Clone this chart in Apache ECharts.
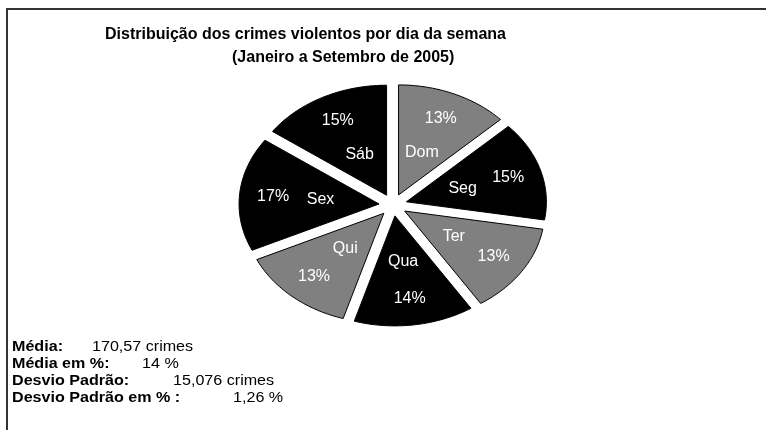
<!DOCTYPE html>
<html lang="pt">
<head>
    <meta charset="UTF-8">
    <title>Crimes violentos por dia da semana</title>
    <script src="https://cdn.jsdelivr.net/npm/echarts@6/dist/echarts.min.js"></script>
    <style type="text/css">
        html, body { margin: 0; padding: 0; background: #fff; }
        #pie { width: 766px; height: 430px; }
    </style>
</head>
<body>
<div id="pie"></div>
<script type="text/javascript">
    // dados
    var days = ['Dom', 'Seg', 'Ter', 'Qua', 'Qui', 'Sex', 'Sáb'];
    var crimes = [155, 175, 158, 165, 160, 200, 181];
    var sliceColors = ['#808080', '#000000', '#808080', '#000000', '#808080', '#000000', '#000000'];

    var titleLines = ['Distribuição dos crimes violentos por dia da semana', '(Janeiro a Setembro de 2005)'];
    var statLabels = ['Média:', 'Média em %:', 'Desvio Padrão:', 'Desvio Padrão em % :'];
    var statValues = ['170,57 crimes', '14 %', '15,076 crimes', '1,26 %'];

    // layout
    var cx = 393, cy = 205, rx = 140, ry = 110, explode = 0.1;
    var statValueX = [92, 142, 173, 233];
    var FONT = '"Liberation Sans", Arial, sans-serif';

    var total = 0;
    var cum = [];
    for (var i = 0; i < crimes.length; i++) {
        cum.push(total);
        total += crimes[i];
    }

    var chart = echarts.init(document.getElementById('pie'));

    function renderSlice(params, api) {
        var v = api.value(0), start = api.value(1);
        var a0 = start / total * Math.PI * 2;
        var a1 = (start + v) / total * Math.PI * 2;
        var mid = (a0 + a1) / 2;
        var ox = cx + explode * rx * Math.sin(mid);
        var oy = cy - explode * ry * Math.cos(mid);
        var pts = [[ox, oy]];
        var n = 40;
        for (var k = 0; k <= n; k++) {
            var a = a0 + (a1 - a0) * k / n;
            pts.push([ox + rx * Math.sin(a), oy - ry * Math.cos(a)]);
        }
        var pct = Math.round(v / total * 100) + '%';
        function at(f) {
            return [ox + f * rx * Math.sin(mid), oy - f * ry * Math.cos(mid)];
        }
        var pName = at(0.42), pPct = at(0.76);
        return {
            type: 'group',
            children: [{
                type: 'polygon',
                shape: {points: pts},
                style: {fill: sliceColors[params.dataIndex], stroke: '#000', lineWidth: 1}
            }, {
                type: 'text',
                x: pName[0], y: pName[1],
                style: {text: days[params.dataIndex], fill: '#fff', font: '16px ' + FONT, align: 'center', verticalAlign: 'middle'}
            }, {
                type: 'text',
                x: pPct[0], y: pPct[1],
                style: {text: pct, fill: '#fff', font: '16px ' + FONT, align: 'center', verticalAlign: 'middle'}
            }]
        };
    }

    var graphics = [
        {type: 'line', shape: {x1: 7, y1: 9, x2: 7, y2: 430}, style: {stroke: '#333', lineWidth: 2}},
        {type: 'line', shape: {x1: 6, y1: 9, x2: 766, y2: 9}, style: {stroke: '#333', lineWidth: 2}},
        {type: 'text', x: 105, y: 35,
            style: {text: titleLines[0], font: 'bold 16px ' + FONT, fill: '#000', verticalAlign: 'middle'}},
        {type: 'text', x: 232, y: 58,
            style: {text: titleLines[1], font: 'bold 16px ' + FONT, fill: '#000', verticalAlign: 'middle'}}
    ];
    for (var r = 0; r < statLabels.length; r++) {
        graphics.push({type: 'text', x: 12, y: 347 + r * 17, scaleX: 1.15,
            style: {text: statLabels[r], font: 'bold 14px ' + FONT, fill: '#000', verticalAlign: 'middle'}});
        graphics.push({type: 'text', x: statValueX[r], y: 347 + r * 17, scaleX: 1.15,
            style: {text: statValues[r], font: '14px ' + FONT, fill: '#000', verticalAlign: 'middle'}});
    }

    chart.setOption({
        animation: false,
        graphic: graphics,
        series: [{
            type: 'custom',
            coordinateSystem: 'none',
            renderItem: renderSlice,
            data: crimes.map(function (v, i) {
                return {name: days[i], value: [v, cum[i]]};
            })
        }]
    });
</script>
</body>
</html>
